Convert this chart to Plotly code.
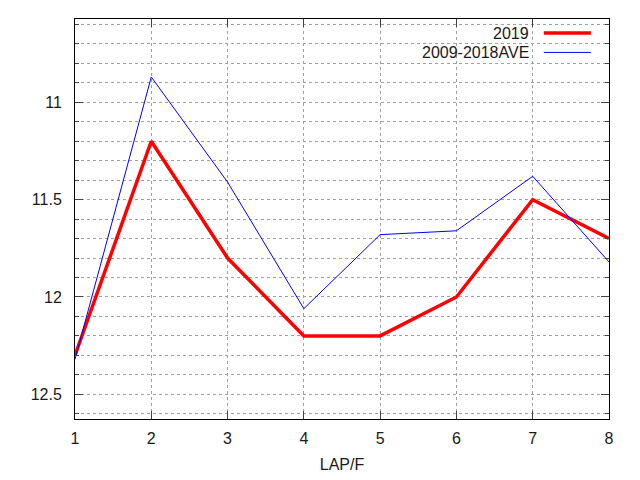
import plotly.graph_objects as go

laps = [1, 2, 3, 4, 5, 6, 7, 8]
y2019 = [12.3, 11.2, 11.8, 12.2, 12.2, 12.0, 11.5, 11.7]
yave = [12.32, 10.87, 11.41, 12.06, 11.68, 11.66, 11.38, 11.82]
names = ["2019", "2009-2018AVE"]
colors = ["#ff0000", "#0000ff"]
widths = [3.5, 1]

fig = go.Figure()
for ys, name, c, w in zip([y2019, yave], names, colors, widths):
    fig.add_trace(go.Scatter(x=laps, y=ys, mode="lines", name=name,
                             line=dict(color=c, width=w), showlegend=False))

# gnuplot style key: text on the left, sample line on the right
fig.add_shape(type="rect", xref="paper", yref="paper", x0=0.63, x1=0.98, y0=0.89, y1=1.0,
              fillcolor="white", line_width=0, layer="between")
for i, (name, c, w) in enumerate(zip(names, colors, widths)):
    yy = 0.965 - i * 0.0485
    fig.add_annotation(text=name, xref="paper", yref="paper", x=0.854, y=yy,
                       xanchor="right", yanchor="middle", showarrow=False,
                       font=dict(size=16, color="#1a1a1a"))
    fig.add_shape(type="line", xref="paper", yref="paper", x0=0.878, x1=0.966, y0=yy, y1=yy,
                  line=dict(color=c, width=w))

# page body has an 8px margin, so the figure is a little smaller than the window
grid = dict(showgrid=True, gridcolor="#a0a0a0", griddash="dot", gridwidth=1)
fig.update_layout(
    width=632, height=472,
    margin=dict(l=67, r=31, t=11, b=61),
    plot_bgcolor="white", paper_bgcolor="white",
    font=dict(family="Liberation Sans, Arial, sans-serif", size=16, color="#1a1a1a"),
    xaxis=dict(range=[1, 8], dtick=1, ticks="inside", ticklen=8, mirror="ticks",
               showline=True, linecolor="black", linewidth=1, zeroline=False,
               automargin=False, tickfont=dict(size=16), ticklabelstandoff=5,
               title=dict(text="LAP/F", standoff=12, font=dict(size=16)), **grid),
    yaxis=dict(range=[12.627, 10.572], tickvals=[11, 11.5, 12, 12.5],
               ticktext=["11", "11.5", "12", "12.5"],
               ticks="inside", ticklen=8, mirror="ticks",
               showline=True, linecolor="black", linewidth=1, zeroline=False,
               automargin=False, tickfont=dict(size=16), ticklabelstandoff=9,
               minor=dict(dtick=0.1, tick0=10, ticks="inside", ticklen=4,
                          showgrid=True, gridcolor="#a0a0a0", griddash="dot"),
               **grid),
)

fig.write_html("out.html")
